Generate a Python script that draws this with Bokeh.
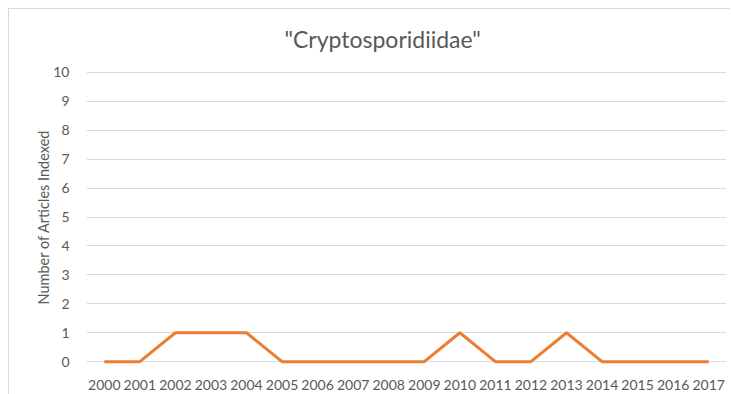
from bokeh.plotting import figure
from bokeh.models import Range1d, FixedTicker
from bokeh.embed import file_html
from bokeh.resources import INLINE

years = list(range(2000, 2018))
articles = [0, 0, 1, 1, 1, 0, 0, 0, 0, 0, 1, 0, 0, 1, 0, 0, 0, 0]
y_ticks = list(range(0, 11))
title_text = '"Cryptosporidiidae"'
y_label = "Number of Articles Indexed"

FONT = "Lato"
GRAY = "#595959"

p = figure(width=722, height=386, output_backend="svg", toolbar_location=None,
           x_range=Range1d(1999.5, 2017.5), y_range=Range1d(-0.2, 10.2),
           min_border_left=77, min_border_right=5, min_border_top=57, min_border_bottom=28,
           title=title_text)
p.margin = (8, 0, 0, 8)
p.styles = {"border-left": "1px solid #d9d9d9", "border-top": "1px solid #d9d9d9"}
p.outline_line_color = None
p.background_fill_color = "white"
p.border_fill_color = "white"

p.title.text_font = FONT
p.title.text_font_size = "23px"
p.title.text_font_style = "normal"
p.title.text_color = GRAY
p.title.align = "left"
p.title.offset = 198
p.title.standoff = 27

p.line(years, articles, line_color="#ED7D31", line_width=3)

for ax in (p.xaxis[0], p.yaxis[0]):
    ax.axis_line_color = None
    ax.major_tick_line_color = None
    ax.minor_tick_line_color = None
    ax.major_label_text_font = FONT
    ax.major_label_text_font_size = "14px"
    ax.major_label_text_color = GRAY

p.xaxis[0].ticker = FixedTicker(ticks=years)
p.xaxis[0].major_label_standoff = 6
p.yaxis[0].ticker = FixedTicker(ticks=y_ticks)
p.yaxis[0].major_label_standoff = 11
p.yaxis[0].axis_label = y_label
p.yaxis[0].axis_label_text_font = FONT
p.yaxis[0].axis_label_text_font_size = "14.5px"
p.yaxis[0].axis_label_text_font_style = "normal"
p.yaxis[0].axis_label_text_color = GRAY
p.yaxis[0].axis_label_standoff = -2

p.xgrid.grid_line_color = None
p.ygrid.grid_line_color = "#d9d9d9"
p.ygrid.grid_line_width = 1
p.ygrid.ticker = FixedTicker(ticks=y_ticks)

open("out.html", "w").write(file_html(p, INLINE))
